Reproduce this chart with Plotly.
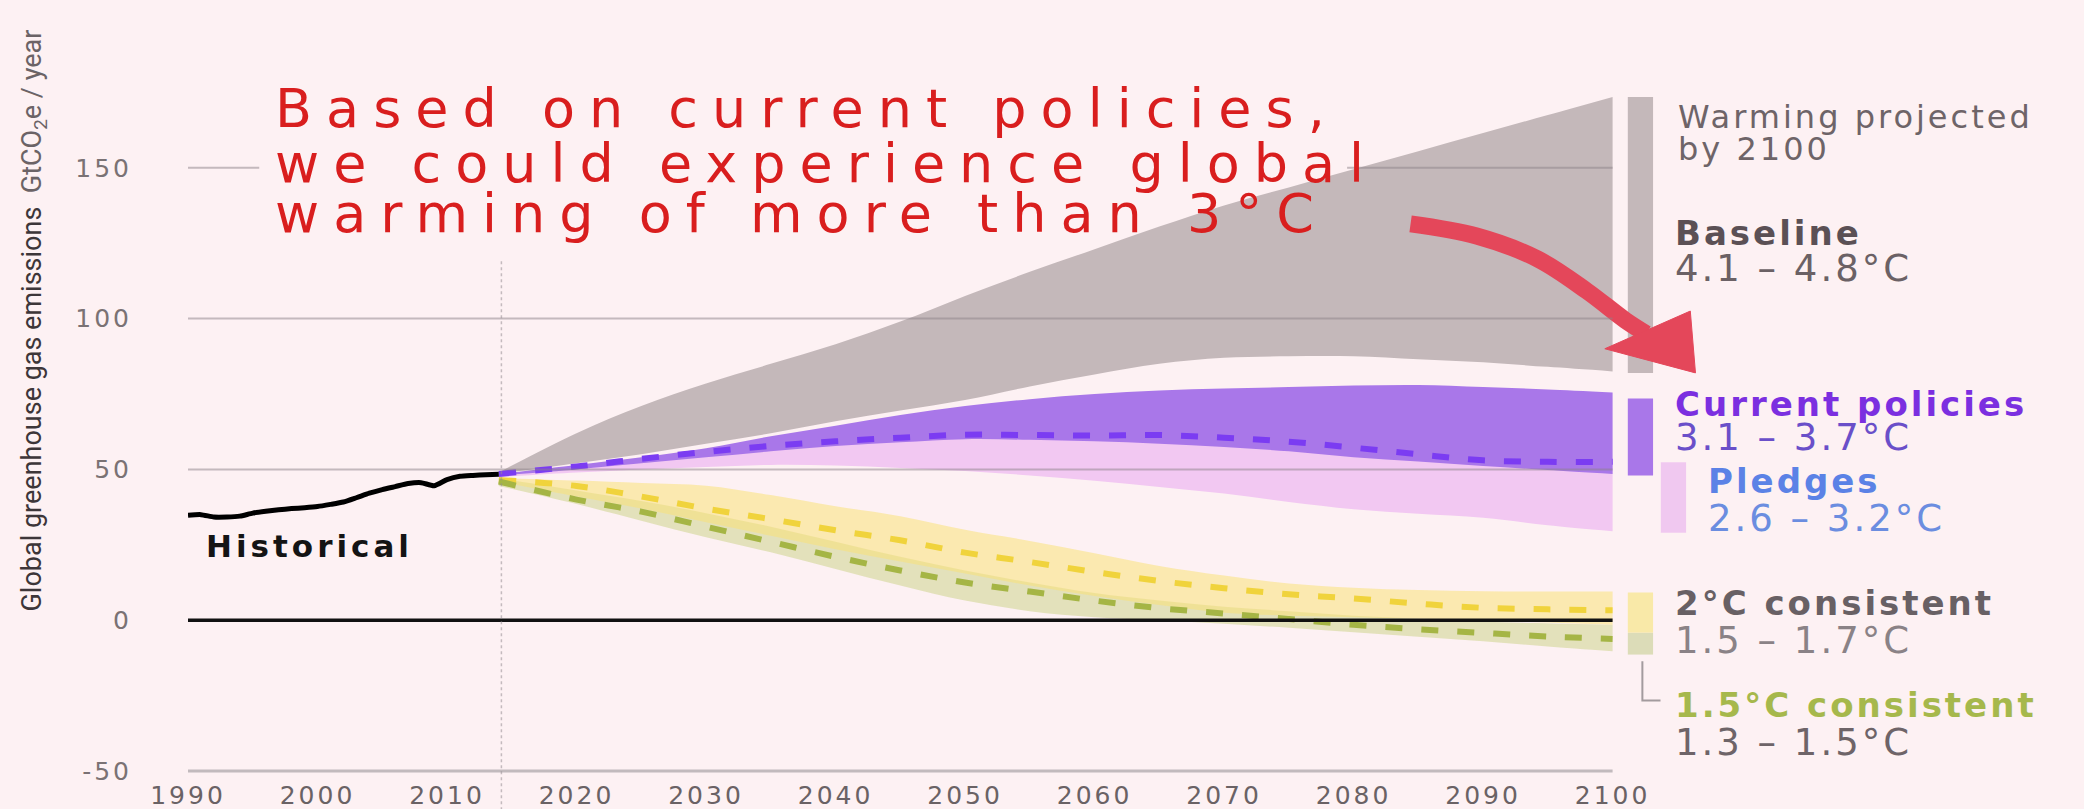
import plotly.graph_objects as go

# ---------------- data ----------------
HIST_YEARS = list(range(1990, 2015))
HIST_VALUES = [34.8, 35.0, 34.2, 34.2, 34.5, 35.5, 36.1, 36.6, 37.0, 37.3, 37.7, 38.4, 39.2,
               40.6, 42.1, 43.3, 44.3, 45.3, 45.6, 44.6, 46.6, 47.7, 48.0, 48.2, 48.4]

YEARS = [2014, 2020, 2025, 2030, 2035, 2040, 2045, 2050, 2055, 2060, 2065, 2070, 2075, 2080, 2085, 2090, 2095, 2100]

baseline_high = [49.0, 62.0, 71.0, 78.5, 85.0, 91.5, 99.0, 107.5, 115.5, 123.0, 130.5, 137.5, 143.5, 149.5, 155.5, 161.5, 167.5, 173.5]
baseline_low = [48.5, 52.0, 55.0, 58.5, 62.0, 66.0, 69.5, 73.0, 77.5, 81.5, 85.0, 87.0, 87.5, 87.5, 86.5, 85.5, 84.0, 82.5]

cp_high = [48.5, 51.5, 54.0, 57.0, 61.0, 64.5, 68.0, 71.0, 73.3, 75.0, 76.2, 76.8, 77.3, 77.8, 78.0, 77.3, 76.5, 75.5]
cp_mid = [48.5, 51.0, 53.5, 55.8, 57.8, 59.3, 60.5, 61.5, 61.4, 61.2, 61.4, 60.5, 59.2, 57.2, 55.0, 53.0, 52.5, 52.5]
cp_low = [48.0, 50.0, 52.0, 54.0, 56.0, 57.8, 59.0, 60.0, 59.8, 59.3, 58.5, 57.4, 56.0, 54.0, 52.6, 51.1, 49.8, 48.5]

pledges_high = [48.5, 51.0, 53.5, 55.8, 57.8, 59.3, 60.5, 61.5, 61.4, 61.2, 61.4, 60.5, 59.2, 57.2, 55.0, 53.0, 52.5, 52.5]
pledges_low = [47.5, 49.0, 50.0, 50.8, 51.5, 51.3, 50.5, 49.5, 48.0, 46.2, 44.2, 42.0, 39.2, 36.8, 35.3, 34.0, 31.5, 29.5]

c2_high = [47.2, 46.3, 45.5, 44.6, 41.5, 37.8, 34.5, 30.0, 26.3, 22.2, 18.0, 14.8, 12.2, 10.8, 10.0, 9.6, 9.5, 9.5]
c2_mid = [46.5, 44.5, 41.0, 37.0, 33.5, 29.8, 26.5, 22.4, 19.3, 16.0, 13.0, 10.6, 8.6, 7.2, 5.5, 4.1, 3.6, 3.3]
c2_low = [46.0, 41.0, 37.0, 32.5, 28.0, 23.5, 19.5, 15.5, 11.5, 8.0, 5.0, 2.5, 1.5, 1.0, 0.5, 0.0, -0.8, -1.5]

c15_high = [47.0, 43.0, 39.5, 35.5, 31.0, 26.0, 21.0, 16.5, 12.5, 9.0, 6.5, 4.5, 3.0, 1.5, 0.5, -0.5, -1.0, -1.5]
c15_mid = [46.0, 40.0, 36.0, 31.0, 26.0, 21.0, 16.5, 12.5, 9.5, 6.5, 4.0, 2.2, 0.4, -1.5, -3.0, -4.2, -5.4, -6.2]
c15_low = [44.5, 38.5, 33.0, 27.5, 22.5, 17.0, 11.5, 6.5, 3.0, 1.0, 0.0, -1.2, -2.5, -4.0, -5.5, -7.0, -8.7, -10.3]

# 2100 warming range bars
BAR_LOW = [82.0, 48.0, 29.0, -4.2, -11.4]
BAR_HIGH = [173.5, 73.5, 52.4, 9.2, -4.2]

X_TICKS = list(range(1990, 2101, 10))
Y_TICKS = [-50, 0, 50, 100, 150]
Y_TICK_LABELS = ["-50", "0", "50", "100", "150"]
GRID_VALUES = [50, 100]

SCENARIO_LABELS = ["Baseline", "Current policies", "Pledges", "2°C consistent", "1.5°C consistent"]
SCENARIO_RANGES = ["4.1 – 4.8°C", "3.1 – 3.7°C", "2.6 – 3.2°C", "1.5 – 1.7°C", "1.3 – 1.5°C"]

CALLOUT_LINES = ["Based on current policies,", "we could experience global", "warming of more than 3°C"]

# ---------------- styling ----------------
BG = "#fdf1f3"
FONT = "DejaVu Sans"
C_GRAY = "#c4b8ba"
C_PURPLE = "#a977e9"
C_PINK = "#f2c8f2"
C_YELLOW = "rgba(250,225,120,0.55)"
C_OLIVE = "rgba(205,212,140,0.55)"
ARROW_C = "#e4475a"


def spaced(text, px):
    return f"<span style='letter-spacing:{px}px'>{text}</span>"


fig = go.Figure()


def band(low, high, color):
    fig.add_trace(go.Scatter(x=YEARS, y=low, mode="lines", line=dict(width=0, shape="spline"),
                             hoverinfo="skip", showlegend=False))
    fig.add_trace(go.Scatter(x=YEARS, y=high, mode="lines", line=dict(width=0, shape="spline"),
                             fill="tonexty", fillcolor=color, hoverinfo="skip", showlegend=False))


band(baseline_low, baseline_high, C_GRAY)
band(pledges_low, pledges_high, C_PINK)
band(cp_low, cp_high, C_PURPLE)
band(c15_low, c15_high, C_OLIVE)
band(c2_low, c2_high, C_YELLOW)

for vals, col in [(cp_mid, "#7b3cf2"), (c2_mid, "#f0d33c"), (c15_mid, "#a5b545")]:
    fig.add_trace(go.Scatter(x=YEARS, y=vals, mode="lines",
                             line=dict(color=col, width=6, dash="17px,19px", shape="spline"),
                             hoverinfo="skip", showlegend=False))

fig.add_trace(go.Scatter(x=HIST_YEARS, y=HIST_VALUES, mode="lines",
                         line=dict(color="#000000", width=5, shape="spline", smoothing=0.6),
                         showlegend=False))

# side bars for 2100 ranges
bar_x = [2102.15, 2102.15, 2104.7, 2102.15, 2102.15]
bar_colors = [C_GRAY, C_PURPLE, "#f0c8f0", "#f9e9a8", "#dcdcb8"]
fig.add_trace(go.Bar(x=bar_x, y=[h - l for h, l in zip(BAR_HIGH, BAR_LOW)], base=BAR_LOW,
                     width=[1.95] * 5, marker=dict(color=bar_colors, line=dict(width=0)),
                     showlegend=False, hoverinfo="skip"))

# bracket linking 1.5°C label
fig.add_trace(go.Scatter(x=[2102.3, 2102.3, 2103.7], y=[-13.6, -26.6, -26.6], mode="lines",
                         line=dict(color="#a39b9e", width=2), showlegend=False, hoverinfo="skip"))

# curved red arrow
fig.add_trace(go.Scatter(x=[2084.4, 2089.5, 2094.2, 2098.0, 2101.0, 2102.6],
                         y=[131.4, 127.4, 119.8, 109.2, 99.4, 95.0], mode="lines",
                         line=dict(color=ARROW_C, width=17, shape="spline"),
                         showlegend=False, hoverinfo="skip"))
fig.add_trace(go.Scatter(x=[2099.4, 2106.0, 2106.4, 2099.4], y=[90.0, 102.5, 82.0, 90.0], mode="lines",
                         fill="toself", fillcolor=ARROW_C, line=dict(color=ARROW_C, width=1),
                         showlegend=False, hoverinfo="skip"))

shapes = []
grid_col = "rgba(140,130,135,0.5)"
for g in GRID_VALUES:
    shapes.append(dict(type="line", xref="x", yref="y", x0=1990, x1=2100, y0=g, y1=g,
                       line=dict(color=grid_col, width=2), layer="above"))
for x0, x1 in [(1990, 1995.5), (2079.5, 2100)]:
    shapes.append(dict(type="line", xref="x", yref="y", x0=x0, x1=x1, y0=150, y1=150,
                       line=dict(color=grid_col, width=2), layer="above"))
shapes.append(dict(type="line", xref="x", yref="paper", x0=1990, x1=2100, y0=0, y1=0,
                   line=dict(color="#c2babd", width=3), layer="above"))
shapes.append(dict(type="line", xref="x", yref="y", x0=1990, x1=2100, y0=0, y1=0,
                   line=dict(color="#111111", width=3.5), layer="above"))
shapes.append(dict(type="line", xref="x", yref="paper", x0=2014.2, x1=2014.2, y0=-0.06, y1=0.676,
                   line=dict(color="rgba(150,140,145,0.55)", width=1.5, dash="dot"), layer="above"))

ann = []
# callout text
for line, yv in zip(CALLOUT_LINES, [169.7, 151.5, 134.9]):
    ann.append(dict(x=1996.6, y=yv, xref="x", yref="y", xanchor="left", yanchor="middle", showarrow=False,
                    text=spaced(line, 14), font=dict(family=FONT, size=54, color="#d91e1e")))

ann.append(dict(x=1991.2, y=24.6, xref="x", yref="y", xanchor="left", yanchor="middle", showarrow=False,
                text="<b>" + spaced("Historical", 4) + "</b>", font=dict(family=FONT, size=31, color="#141414")))

ann.append(dict(x=2104.9, y=166.8, xref="x", yref="y", xanchor="left", yanchor="middle", showarrow=False,
                text=spaced("Warming projected", 3), font=dict(family=FONT, size=32, color="#6e6468")))
ann.append(dict(x=2104.9, y=156.3, xref="x", yref="y", xanchor="left", yanchor="middle", showarrow=False,
                text=spaced("by 2100", 3), font=dict(family=FONT, size=32, color="#6e6468")))

label_specs = [
    (2104.7, 128.3, 116.5, "#5b5055", "#6b6165"),
    (2104.7, 71.7, 60.5, "#7b2fe0", "#6a4fc9"),
    (2107.2, 46.2, 33.7, "#5b82e6", "#6b8de0"),
    (2104.7, 5.7, -6.6, "#686064", "#8a8286"),
    (2104.7, -28.1, -40.5, "#a6b84c", "#6e6468"),
]
for (xv, y1, y2, c1, c2), lab, rng in zip(label_specs, SCENARIO_LABELS, SCENARIO_RANGES):
    ann.append(dict(x=xv, y=y1, xref="x", yref="y", xanchor="left", yanchor="middle", showarrow=False,
                    text="<b>" + spaced(lab, 3) + "</b>", font=dict(family=FONT, size=34, color=c1)))
    ann.append(dict(x=xv, y=y2, xref="x", yref="y", xanchor="left", yanchor="middle", showarrow=False,
                    text=spaced(rng, 3), font=dict(family=FONT, size=37, color=c2)))

# y-axis title
ann.append(dict(x=-0.081, y=0.598, xref="paper", yref="paper", xanchor="center", yanchor="middle",
                showarrow=False, textangle=-90,
                text="<span style='color:#3d3639'>Global greenhouse gas emissions</span>  "
                     "<span style='color:#6b6366'>GtCO<sub>2</sub>e / year</span>",
                font=dict(family="Roboto", size=27)))

fig.update_layout(
    width=2084, height=809,
    margin=dict(l=188, r=0, t=17, b=38),
    paper_bgcolor=BG, plot_bgcolor=BG,
    barmode="overlay", showlegend=False,
    shapes=shapes, annotations=ann,
    xaxis=dict(range=[1990, 2136.4], tickvals=X_TICKS,
               ticktext=[spaced(str(t), 3) for t in X_TICKS],
               showgrid=False, zeroline=False, showline=False,
               ticks="outside", ticklen=2, tickcolor="rgba(0,0,0,0)",
               tickfont=dict(family=FONT, size=25, color="#6a6265")),
    yaxis=dict(range=[-50, 200], tickvals=Y_TICKS,
               ticktext=[spaced(t, 3) for t in Y_TICK_LABELS],
               showgrid=False, zeroline=False, showline=False,
               ticks="outside", ticklen=50, tickcolor="rgba(0,0,0,0)",
               tickfont=dict(family=FONT, size=25, color="#7a7274")),
)

fig.write_html(
    "out.html",
    config={"displayModeBar": False},
    post_script=("document.body.style.margin='0';document.body.style.padding='0';"
                 f"document.body.style.background='{BG}';"
                 "document.documentElement.style.overflow='hidden';"),
)
